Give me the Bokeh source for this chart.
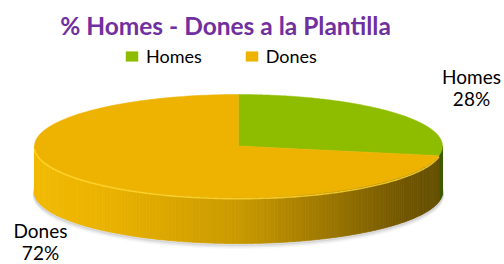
import numpy as np
from bokeh.plotting import figure
from bokeh.models import Range1d, Label, Legend, LegendItem
from bokeh.core.properties import value
from bokeh.embed import file_html
from bokeh.resources import INLINE

# ---- data ----
chart_title = "% Homes - Dones a la Plantilla"
categories = ["Homes", "Dones"]
values = [28, 72]
top_colors = ["#8EBD00", "#EDB300"]
label_x = [471, 40]
label_y = [76, 230]

FONT = "Lato"
W, H = 504, 264
p = figure(width=W, height=H, output_backend="svg", toolbar_location=None,
           x_range=Range1d(0, W), y_range=Range1d(H, 0),
           x_axis_type=None, y_axis_type=None, min_border=0)
p.grid.visible = False
p.outline_line_color = None
p.background_fill_color = "white"
p.border_fill_color = "white"

# ---- pie geometry (screen-like units) ----
cx, cy, rx, ry, depth = 238.0, 145.5, 204.0, 51.5, 46.0

def pts(th, dy=0.0):
    t = np.radians(th)
    return cx + rx * np.sin(t), cy - ry * np.cos(t) + dy

total = float(sum(values))
bounds = np.concatenate([[0.0], np.cumsum(values) / total * 360.0])

# side colour stops (x position -> rgb)
side_stops = {
    0: ([34, 300, 440], [(88, 120, 0), (80, 110, 0), (62, 92, 0)]),
    1: ([34, 110, 240, 330, 400, 430], [(242, 186, 0), (234, 178, 0), (200, 153, 0),
                                     (155, 118, 0), (115, 88, 0), (102, 80, 0)]),
}

def interp_col(i, x):
    xs, cols = side_stops[i]
    c = [np.interp(x, xs, [cc[k] for cc in cols]) for k in range(3)]
    return "#%02x%02x%02x" % tuple(int(round(v)) for v in c)

# shadow under the pie
for k, a in [(1, 0.22), (2.5, 0.12), (4, 0.06)]:
    th = np.linspace(85, 275, 120)
    x, y = pts(th, depth + k)
    p.line(x, y, line_color="#808080", line_alpha=a, line_width=3)

# sides
sx, sy, sc = [], [], []
for i in range(len(values)):
    a0, a1 = max(bounds[i], 90.0), min(bounds[i + 1], 270.0)
    if a1 <= a0:
        continue
    n = max(2, int((a1 - a0) / 1.0))
    edges = np.linspace(a0, a1, n + 1)
    for e0, e1 in zip(edges[:-1], edges[1:]):
        th = np.linspace(e0, e1, 4)
        xt, yt = pts(th)
        xb, yb = pts(th[::-1], depth)
        sx.append(list(xt) + list(xb))
        sy.append(list(yt) + list(yb))
        sc.append(interp_col(i, pts((e0 + e1) / 2)[0]))
p.patches(sx, sy, fill_color=sc, line_color=sc, line_width=0.8)

# top faces
renderers = []
for i in range(len(values)):
    th = np.linspace(bounds[i], bounds[i + 1], 200)
    x, y = pts(th)
    r = p.patch([cx] + list(x) + [cx], [cy] + list(y) + [cy],
                fill_color=top_colors[i], line_color=top_colors[i], line_width=0.5)
    renderers.append(r)

# rim highlight on the front edge
th = np.linspace(bounds[1], 268, 200)
x, y = pts(th, 1.2)
p.line(x, y, line_color="#FFD630", line_width=1.6, line_alpha=0.85)

# title
p.add_layout(Label(x=225, y=25, text=chart_title, text_font=FONT, text_font_style="bold",
                   text_font_size="24.5px", text_color="#7030A0", text_align="center",
                   text_baseline="middle"))

# legend
legend = Legend(items=[LegendItem(label=c, renderers=[r]) for c, r in zip(categories, renderers)],
                orientation="horizontal", location=(124, 197), glyph_width=15, glyph_height=12,
                label_standoff=7, spacing=42, padding=0, margin=0, border_line_color=None,
                background_fill_alpha=0, label_text_font=FONT, label_text_font_size="18px",
                label_text_color="#000000")
p.add_layout(legend, "center")

# data labels
for cat, v, lx, ly in zip(categories, values, label_x, label_y):
    p.text(x=[lx, lx], y=[ly, ly + 22], text=[cat, f"{v}%"], text_font=value(FONT),
           text_font_size="19px", text_color="#000000", text_align="center",
           text_baseline="middle")

open("out.html", "w").write(file_html(p, INLINE))
